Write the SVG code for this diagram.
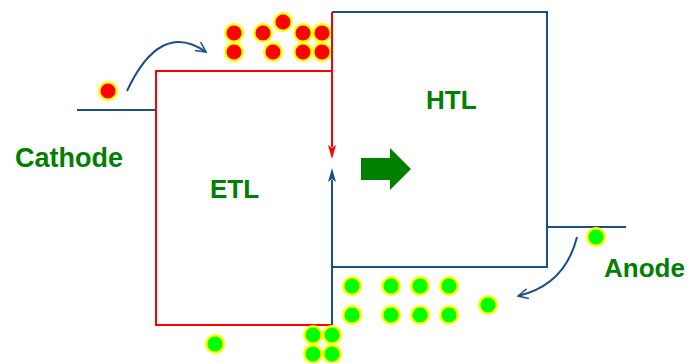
<svg xmlns="http://www.w3.org/2000/svg" width="690" height="363" viewBox="0 0 690 363">
<style>
.lbl{font-family:"Liberation Sans",Arial,sans-serif;font-weight:bold;font-size:26px;fill:#008000}
.red{fill:none;stroke:#ff0000;stroke-width:2}
.blue{fill:none;stroke:#1a4f8c;stroke-width:2}
.e{fill:#ff0000;stroke:#ffff00;stroke-width:2.5}
.h{fill:#00ff00;stroke:#ffff00;stroke-width:2.5}
</style>
<defs>
<marker id="open" viewBox="0 0 12 12" refX="11" refY="6" markerWidth="12" markerHeight="12" markerUnits="userSpaceOnUse" orient="auto">
<path d="M1,1 L11,6 L1,11" fill="none" stroke="#1a4f8c" stroke-width="1.5"/>
</marker>
</defs>
<g id="cathode">
<line class="blue" x1="77" y1="110" x2="156" y2="110"/>
<text class="lbl" x="15" y="167" style="font-size:27px">Cathode</text>
</g>
<g id="etl">
<path class="red" d="M156,110 V71 H332 M156,110 V325 H332"/>
<text class="lbl" x="210" y="198">ETL</text>
</g>
<g id="htl">
<path class="blue" d="M332,12 H547 V267 H332"/>
<text class="lbl" x="426" y="109">HTL</text>
</g>
<g id="anode">
<line class="blue" x1="547" y1="227" x2="626" y2="227"/>
<text class="lbl" x="604" y="277">Anode</text>
</g>
<g id="electrons">
<circle class="e" cx="108" cy="91" r="8.8"/>
<circle class="e" cx="234" cy="33" r="8.8"/>
<circle class="e" cx="263" cy="33" r="8.8"/>
<circle class="e" cx="283" cy="22" r="8.8"/>
<circle class="e" cx="303" cy="33" r="8.8"/>
<circle class="e" cx="322" cy="33" r="8.8"/>
<circle class="e" cx="234" cy="52" r="8.8"/>
<circle class="e" cx="273" cy="52" r="8.8"/>
<circle class="e" cx="303" cy="52" r="8.8"/>
<circle class="e" cx="322" cy="52" r="8.8"/>
</g>
<g id="holes">
<circle class="h" cx="596" cy="237" r="8.8"/>
<circle class="h" cx="488" cy="305" r="8.8"/>
<circle class="h" cx="352" cy="286" r="8.8"/>
<circle class="h" cx="391" cy="286" r="8.8"/>
<circle class="h" cx="420" cy="286" r="8.8"/>
<circle class="h" cx="449" cy="286" r="8.8"/>
<circle class="h" cx="352" cy="315" r="8.8"/>
<circle class="h" cx="391" cy="315" r="8.8"/>
<circle class="h" cx="420" cy="315" r="8.8"/>
<circle class="h" cx="449" cy="315" r="8.8"/>
<circle class="h" cx="313" cy="335" r="8.8"/>
<circle class="h" cx="332" cy="335" r="8.8"/>
<circle class="h" cx="313" cy="354" r="8.8"/>
<circle class="h" cx="332" cy="354" r="8.8"/>
<circle class="h" cx="215" cy="344" r="8.8"/>
</g>
<g id="connectors">
<path class="blue" d="M127,91 Q160,20 206,52" marker-end="url(#open)"/>
<path class="blue" d="M577,237 Q565,285 518,296" marker-end="url(#open)"/>
<path class="red" d="M332,12 V147"/>
<path d="M328,145 L332,159 L336,145 L332,148 Z" fill="#ff0000"/>
<path class="blue" d="M332,325 V180"/>
<path d="M328,182 L332,168 L336,182 L332,179 Z" fill="#1a4f8c"/>
<path d="M361,158 H390 V148 L411,169 L390,190 V180 H361 Z" fill="#008000"/>
</g>
</svg>
